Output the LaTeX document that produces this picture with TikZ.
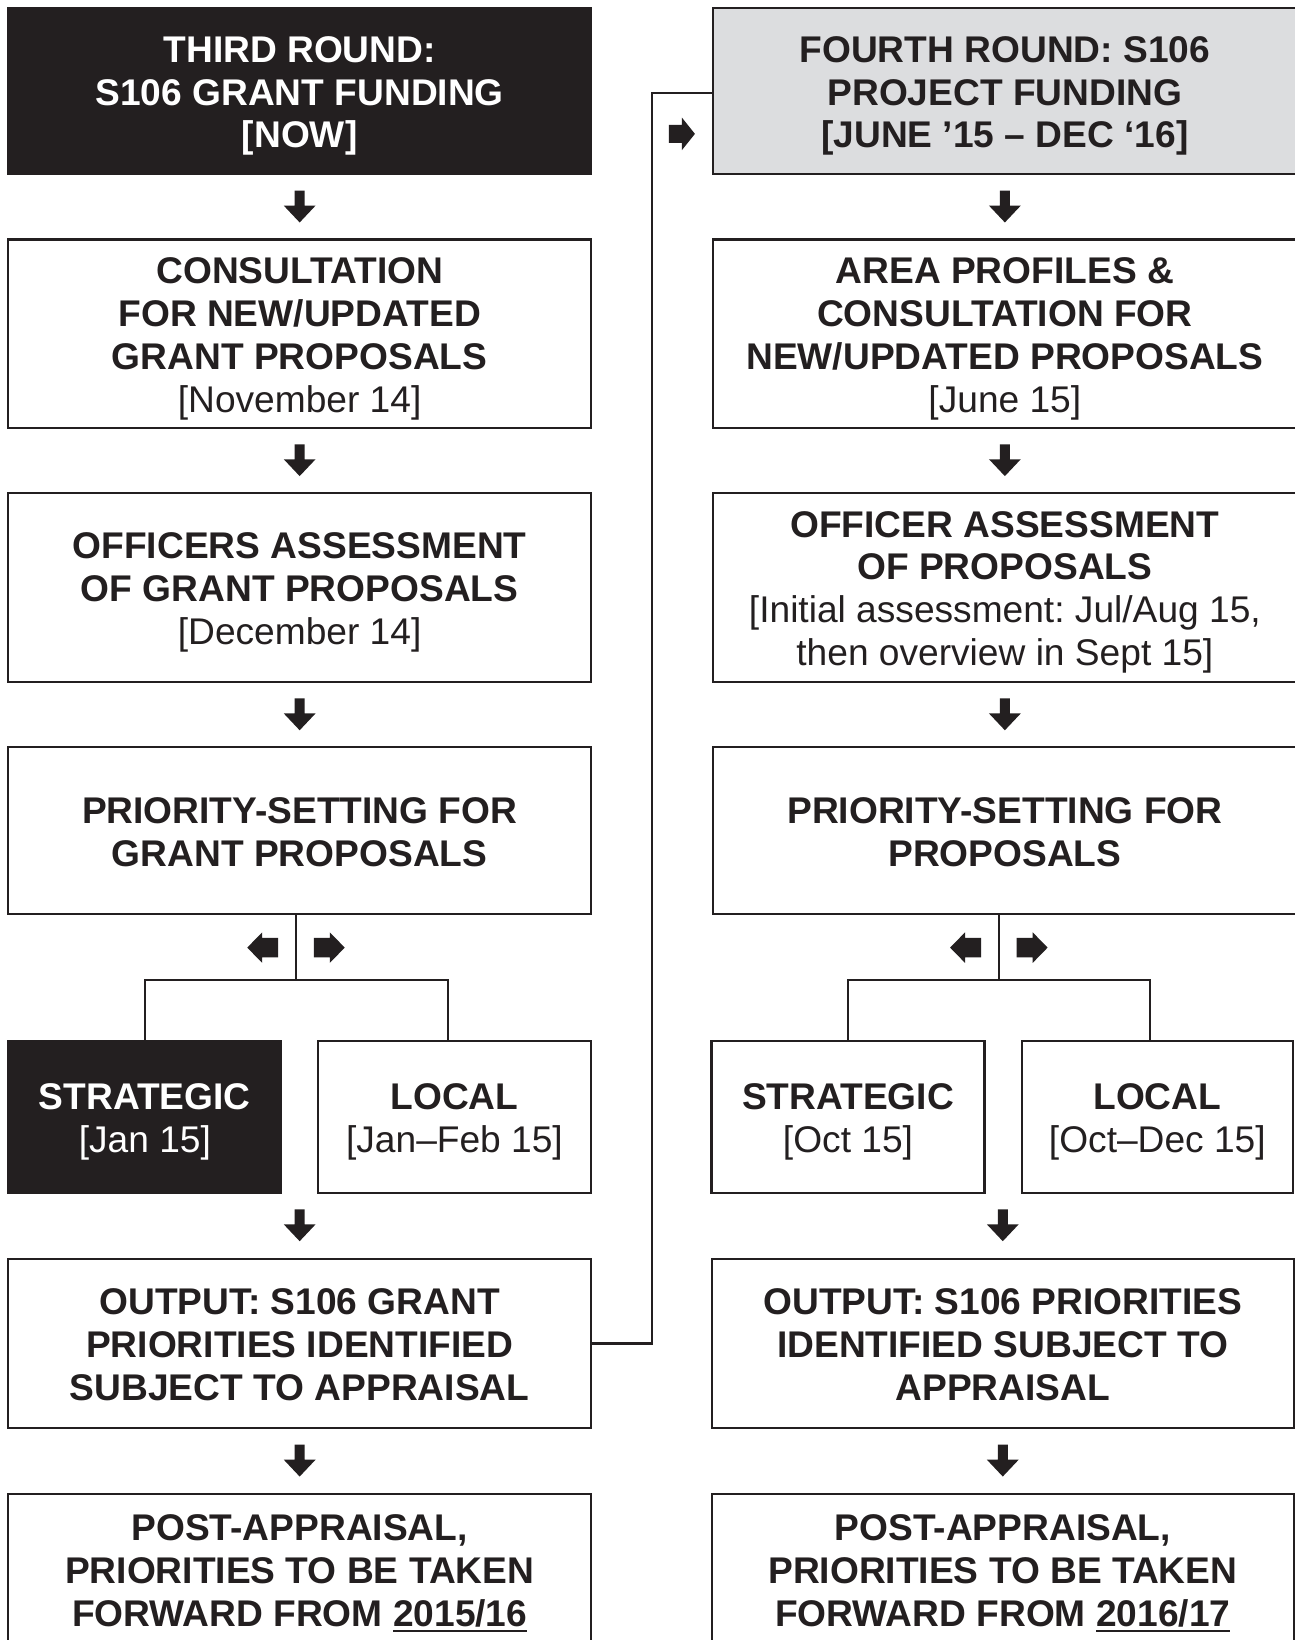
\documentclass[tikz,border=0pt]{standalone}
\usepackage{fontspec}
\setmainfont{Liberation Sans}
\usetikzlibrary{calc}
\definecolor{dk}{HTML}{231F20}
\definecolor{gr}{HTML}{DCDDDF}
\newcommand\fsz{\fontsize{35.5}{41}\selectfont\frenchspacing}
\newcommand\ulnum[1]{\setbox0\hbox{#1}\rlap{\rule[-6pt]{\wd0}{2.5pt}}\box0}
\tikzset{
  box/.style={draw=dk, line width=2pt, fill=white, text=dk, inner sep=0pt,
    align=center, font=\fsz\bfseries, minimum width=557pt, text depth=0pt},
  darkbox/.style={box, fill=dk, text=white},
  graybox/.style={box, fill=gr},
  twol/.style={text height=68pt},
  threel/.style={text height=109pt},
  fourl/.style={text height=150pt},
  conn/.style={draw=dk, line width=2pt},
  downarr/.pic={\fill[dk] (-4.8,-15.2) -- (4.8,-15.2) -- (4.8,-0.9) -- (15.2,-0.9)
     -- (0,15.2) -- (-15.2,-0.9) -- (-4.8,-0.9) -- cycle;},
  rightarr/.pic={\fill[dk] (-15,-9.25) -- (0.3,-9.25) -- (0.3,-14.65) -- (14.6,0)
     -- (0.3,14.65) -- (0.3,9.25) -- (-15,9.25) -- cycle;},
  leftarr/.pic={\fill[dk] (15,-9.25) -- (-0.3,-9.25) -- (-0.3,-14.65) -- (-14.6,0)
     -- (-0.3,14.65) -- (-0.3,9.25) -- (15,9.25) -- cycle;},
  fbarr/.pic={\fill[dk] (-12.4,-8.5) -- (0,-8.5) -- (0,-15.5) -- (12.4,0)
     -- (0,15.5) -- (0,8.5) -- (-12.4,8.5) -- cycle;}
}
\begin{document}
\begin{tikzpicture}[x=1pt,y=-1pt]
\useasboundingbox (0,0) rectangle (1238,1568);
\fill[white] (0,0) rectangle (1238,1568);

% left column
\node[darkbox, threel, minimum height=158pt] (L1) at (286.5,87) {THIRD ROUND:\\S106 GRANT FUNDING\\{[NOW]}};
\node[box, fourl, minimum height=180pt] (L2) at (286.5,319) {CONSULTATION\\FOR NEW/UPDATED\\GRANT PROPOSALS\\\mdseries {[November 14]}};
\node[box, threel, minimum height=181pt] (L3) at (286.5,561.5) {OFFICERS ASSESSMENT\\OF GRANT PROPOSALS\\\mdseries {[December 14]}};
\node[box, twol, minimum height=160pt] (L4) at (286.5,794) {PRIORITY-SETTING FOR\\GRANT PROPOSALS};
\node[darkbox, twol, minimum width=261pt, minimum height=146pt] (LS) at (138.5,1068) {STRATEGIC\\\mdseries {[Jan 15]}};
\node[box, twol, minimum width=261pt, minimum height=146pt] (LL) at (434.5,1068) {LOCAL\\\mdseries {[Jan–Feb 15]}};
\node[box, threel, minimum height=161pt] (L6) at (286.5,1284.5) {OUTPUT: S106 GRANT\\PRIORITIES IDENTIFIED\\SUBJECT TO APPRAISAL};
\node[box, threel, minimum height=144.4pt] (L7) at (286.5,1500.2) {POST-APPRAISAL,\\PRIORITIES TO BE TAKEN\\FORWARD FROM \ulnum{2015/16}};

% right column
\node[graybox, threel, minimum width=557.5pt, minimum height=158pt] (R1) at (960.75,87) {FOURTH ROUND: S106\\PROJECT FUNDING\\{[JUNE ’15 – DEC ‘16]}};
\node[box, fourl, minimum width=557.5pt, minimum height=180pt] (R2) at (960.75,319) {AREA PROFILES \&\\CONSULTATION FOR\\NEW/UPDATED PROPOSALS\\\mdseries {[June 15]}};
\node[box, fourl, minimum width=557.5pt, minimum height=181pt] (R3) at (960.75,561.5) {OFFICER ASSESSMENT\\OF PROPOSALS\\\mdseries {[Initial assessment: Jul/Aug 15,}\\\mdseries {then overview in Sept 15]}};
\node[box, twol, minimum width=557.5pt, minimum height=160pt] (R4) at (960.75,794) {PRIORITY-SETTING FOR\\PROPOSALS};
\node[box, twol, minimum width=261pt, minimum height=146pt] (RS) at (810.75,1068) {STRATEGIC\\\mdseries {[Oct 15]}};
\node[box, twol, minimum width=259pt, minimum height=146pt] (RL) at (1106.5,1068) {LOCAL\\\mdseries {[Oct–Dec 15]}};
\node[box, threel, minimum width=556.5pt, minimum height=161pt] (R6) at (958.75,1284.5) {OUTPUT: S106 PRIORITIES\\IDENTIFIED SUBJECT TO\\APPRAISAL};
\node[box, threel, minimum width=556.5pt, minimum height=144.4pt] (R7) at (958.75,1500.2) {POST-APPRAISAL,\\PRIORITIES TO BE TAKEN\\FORWARD FROM \ulnum{2016/17}};

% down arrows
\foreach \a/\b in {L1/L2,L2/L3,L3/L4,L6/L7,R1/R2,R2/R3,R3/R4,R6/R7}
  \pic at ($(\a.south)!.5!(\b.north)$) {downarr};
\pic at ($(L6.north)+(0,-31.5)$) {downarr};
\pic at ($(R6.north)+(0,-31.5)$) {downarr};

% split connectors, left
\coordinate (LJ) at (283,937);
\coordinate (LLtop) at (428,995);
\draw[conn] (L4.south -| LJ) -- (LJ);
\draw[conn] (LS.north) |- (LJ) -| (LLtop);
\pic at (251,906) {leftarr};
\pic at (315,906) {rightarr};

% split connectors, right
\coordinate (RJ) at (955,937);
\coordinate (RLtop) at (1099.5,995);
\draw[conn] (R4.south -| RJ) -- (RJ);
\draw[conn] (RS.north) |- (RJ) -| (RLtop);
\pic at (923,906) {leftarr};
\pic at (987,906) {rightarr};

% feedback connector
\coordinate (FB) at (623,89);
\draw[conn] (L6.east) -| (FB) -- (R1.west |- FB);
\pic at (652,128) {fbarr};
\end{tikzpicture}
\end{document}
